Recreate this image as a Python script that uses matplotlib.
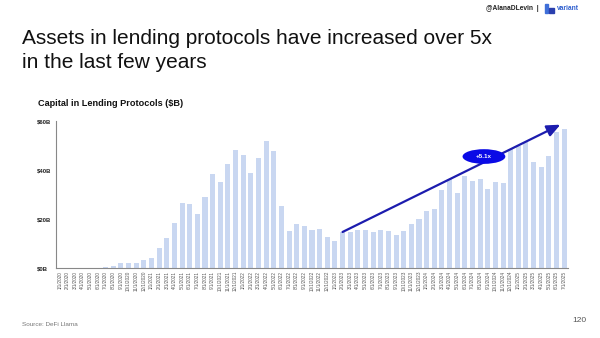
import matplotlib
matplotlib.use("Agg")
import matplotlib.pyplot as plt
from matplotlib.patches import Ellipse, Rectangle

plt.rcParams['font.family'] = ['Liberation Sans', 'DejaVu Sans']

months = [f"{m}/1/{y}" for y in range(2020, 2026) for m in range(1, 13)][:67]
values = [0, 0, 0, 0, 0, 0, 0.3, 1.0, 2.0, 2.0, 2.0, 3.4,
          4.0, 8.0, 12.2, 18.3, 26.5, 26.2, 22.0, 29.0, 38.3, 35.0, 42.3, 48.2,
          46.0, 38.7, 44.9, 51.8, 47.8, 25.5, 15.0, 17.9, 17.2, 15.6, 16.0, 12.5,
          11.0, 14.7, 14.7, 15.5, 15.5, 14.8, 15.5, 15.3, 13.6, 15.3, 18.0, 19.9,
          23.3, 24.2, 31.9, 36.5, 30.5, 37.6, 35.5, 36.5, 32.2, 34.9, 34.6, 48.4,
          49.8, 51.6, 43.3, 41.1, 45.7, 55.6, 56.6]
yticks = [0, 20, 40, 60]
ytick_labels = ["$0B", "$20B", "$40B", "$60B"]
arrow_start = (37, 14.7)
arrow_end = (65.5, 58.5)
growth_label = "+5.1x"
growth_pos = (55.5, 45.5)

W, H = 600, 338
fig = plt.figure(figsize=(W / 100, H / 100), dpi=100)
fig.patch.set_facecolor("white")

ax = fig.add_axes([56 / W, 1 - 268 / H, (568 - 56) / W, (268 - 121) / H])
x = list(range(len(values)))
ax.bar(x, values, width=0.66, color="#c9d7f1", zorder=2)
ax.set_xlim(-0.5, len(values) - 0.5)
ax.set_ylim(0, 60)
ax.set_yticks(yticks)
ax.set_yticklabels(ytick_labels, fontsize=4.2, fontweight="bold", color="#222222")
ax.set_xticks(x)
ax.set_xticklabels(months, rotation=90, fontsize=3.3, color="#555555")
ax.tick_params(axis="both", length=0, pad=2)
ax.tick_params(axis="y", pad=14)
for lbl in ax.get_yticklabels():
    lbl.set_horizontalalignment("left")
for s in ["top", "right"]:
    ax.spines[s].set_visible(False)
for s in ["left", "bottom"]:
    ax.spines[s].set_color("#888888")
    ax.spines[s].set_linewidth(0.8)

ax.annotate("", xy=arrow_end, xytext=arrow_start,
            arrowprops=dict(arrowstyle="-|>,head_length=0.8,head_width=0.35",
                            color="#1c1cae", lw=1.6, shrinkA=0, shrinkB=0),
            zorder=5)

ex, ey = growth_pos
ell = Ellipse((ex, ey), width=5.6, height=6.0, facecolor="#0a0ae6",
              edgecolor="none", zorder=6)
ax.add_patch(ell)
ax.text(ex, ey, growth_label, color="white", fontsize=4.5, fontweight="bold",
        ha="center", va="center", zorder=7)

# Titles
fig.text(22 / W, 1 - 39 / H, "Assets in lending protocols have increased over 5x",
         fontsize=15, color="#111111", va="center", ha="left")
fig.text(22 / W, 1 - 63 / H, "in the last few years",
         fontsize=15, color="#111111", va="center", ha="left")
fig.text(38 / W, 1 - 103 / H, "Capital in Lending Protocols ($B)",
         fontsize=6.6, fontweight="bold", color="#111111", va="center", ha="left")

# Header
fig.text(539 / W, 1 - 8 / H, "@AlanaDLevin  |", fontsize=4.8, fontweight="bold",
         color="#222222", va="center", ha="right")
fig.patches.append(Rectangle((545 / W, 1 - 13 / H), 3 / W, 9 / H,
                             transform=fig.transFigure, color="#3f6fd8"))
fig.patches.append(Rectangle((549 / W, 1 - 13 / H), 5 / W, 5 / H,
                             transform=fig.transFigure, color="#2a3fae"))
fig.text(557 / W, 1 - 8 / H, "variant", fontsize=4.8, fontweight="bold",
         color="#2f5fcf", va="center", ha="left")

# Footer
fig.text(22 / W, 1 - 325 / H, "Source: DeFi Llama", fontsize=4.6,
         color="#777777", va="center", ha="left")
fig.text(586 / W, 1 - 321 / H, "120", fontsize=6, color="#555555",
         va="center", ha="right")

fig.savefig("out.png", dpi=100, facecolor="white")
